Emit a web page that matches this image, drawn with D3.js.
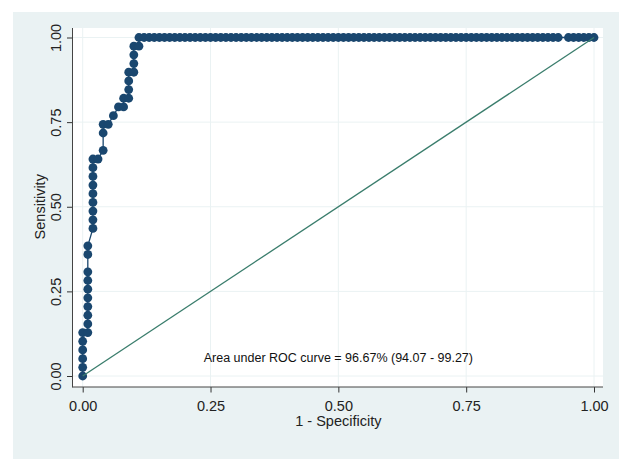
<!DOCTYPE html>
<html>
<head>
<meta charset="utf-8">
<script src="https://cdn.jsdelivr.net/npm/d3@7"></script>
<style>
	body { margin: 0; background: #ffffff; }
	text { font-family: "Liberation Sans", Arial, sans-serif; }
</style>
</head>
<body>
<div id="chart"></div>
<script>
// ROC points (1 - specificity, sensitivity)
var fpr = [
	0, 0, 0, 0, 0, 0,
	0.01, 0.01, 0.01, 0.01, 0.01, 0.01, 0.01, 0.01, 0.01, 0.01,
	0.02, 0.02, 0.02, 0.02, 0.02, 0.02, 0.02, 0.02, 0.02,
	0.03,
	0.04, 0.04, 0.04,
	0.05,
	0.06,
	0.07, 0.08,
	0.08, 0.09,
	0.09, 0.09, 0.09, 0.10,
	0.10, 0.10, 0.10, 0.11,
	0.11, 0.12, 0.13, 0.14, 0.15, 0.16, 0.17, 0.18, 0.19, 0.20,
	0.21, 0.22, 0.23, 0.24, 0.25, 0.26, 0.27, 0.28, 0.29, 0.30,
	0.31, 0.32, 0.33, 0.34, 0.35, 0.36, 0.37, 0.38, 0.39, 0.40,
	0.41, 0.42, 0.43, 0.44, 0.45, 0.46, 0.47, 0.48, 0.49, 0.50,
	0.51, 0.52, 0.53, 0.54, 0.55, 0.56, 0.57, 0.58, 0.59, 0.60,
	0.61, 0.62, 0.63, 0.64, 0.65, 0.66, 0.67, 0.68, 0.69, 0.70,
	0.71, 0.72, 0.73, 0.74, 0.75, 0.76, 0.77, 0.78, 0.79, 0.80,
	0.81, 0.82, 0.83, 0.84, 0.85, 0.86, 0.87, 0.88, 0.89, 0.90,
	0.91, 0.92, 0.93, 0.95, 0.96, 0.97, 0.98, 0.99, 1.00
];
var tpr = [
	0, 0.0256, 0.0513, 0.0769, 0.1026, 0.1282,
	0.1282, 0.1538, 0.1795, 0.2051, 0.2308, 0.2564, 0.2821, 0.3077, 0.3590, 0.3846,
	0.4359, 0.4615, 0.4872, 0.5128, 0.5385, 0.5641, 0.5897, 0.6154, 0.6410,
	0.6410,
	0.6667, 0.7179, 0.7436,
	0.7436,
	0.7692,
	0.7949, 0.7949,
	0.8205, 0.8205,
	0.8462, 0.8718, 0.8974, 0.8974,
	0.9231, 0.9487, 0.9744, 0.9744,
	1, 1, 1, 1, 1, 1, 1, 1, 1, 1,
	1, 1, 1, 1, 1, 1, 1, 1, 1, 1,
	1, 1, 1, 1, 1, 1, 1, 1, 1, 1,
	1, 1, 1, 1, 1, 1, 1, 1, 1, 1,
	1, 1, 1, 1, 1, 1, 1, 1, 1, 1,
	1, 1, 1, 1, 1, 1, 1, 1, 1, 1,
	1, 1, 1, 1, 1, 1, 1, 1, 1, 1,
	1, 1, 1, 1, 1, 1, 1, 1, 1, 1,
	1, 1, 1, 1, 1, 1, 1, 1, 1
];
var refLine = [[0, 0], [1, 1]];
var xTicks = [0, 0.25, 0.5, 0.75, 1];
var yTicks = [0, 0.25, 0.5, 0.75, 1];
var xTitle = "1 - Specificity";
var yTitle = "Sensitivity";
var note = "Area under ROC curve = 96.67% (94.07 - 99.27)";

var width = 619,
	height = 459;

var svg = d3.select("#chart")
	.append("svg")
	.attr("width", width)
	.attr("height", height);

// graph region and plot region
svg.append("rect")
	.attr("x", 13).attr("y", 12)
	.attr("width", width - 13).attr("height", height - 12)
	.attr("fill", "#eaf2f3");
var plotL = 72.5, plotR = 603, plotT = 28, plotB = 387;
svg.append("rect")
	.attr("x", plotL).attr("y", plotT)
	.attr("width", plotR - plotL).attr("height", plotB - plotT)
	.attr("fill", "#ffffff");

// scales
var x = d3.scaleLinear().domain([0, 1]).range([82.7, 594]);
var y = d3.scaleLinear().domain([0, 1]).range([376, 37.5]);

// grid
svg.append("g")
	.selectAll("line")
	.data(xTicks)
	.enter().append("line")
	.attr("x1", function(d) { return x(d); })
	.attr("x2", function(d) { return x(d); })
	.attr("y1", plotT).attr("y2", plotB)
	.attr("stroke", "#eaf2f3").attr("stroke-width", 1);
svg.append("g")
	.selectAll("line")
	.data(yTicks)
	.enter().append("line")
	.attr("y1", function(d) { return y(d); })
	.attr("y2", function(d) { return y(d); })
	.attr("x1", plotL).attr("x2", plotR)
	.attr("stroke", "#eaf2f3").attr("stroke-width", 1);

// axes
var gx = svg.append("g")
	.attr("transform", "translate(0," + plotB + ")")
	.call(d3.axisBottom(x).tickValues(xTicks).tickSize(5.5).tickSizeOuter(0).tickFormat(d3.format(".2f")));
gx.select(".domain").remove();
gx.selectAll("line").attr("stroke", "#333");
gx.selectAll("text")
	.attr("y", 24).attr("dy", null)
	.style("font-size", "14.5px")
	.attr("fill", "#222");

var gy = svg.append("g")
	.attr("transform", "translate(" + plotL + ",0)")
	.call(d3.axisLeft(y).tickValues(yTicks).tickSize(5.5).tickSizeOuter(0).tickFormat(d3.format(".2f")));
gy.select(".domain").remove();
gy.selectAll("line").attr("stroke", "#333");
gy.selectAll("text")
	.attr("x", 0).attr("y", 0).attr("dy", null)
	.attr("transform", "translate(-11.5,0) rotate(-90)")
	.style("text-anchor", "middle")
	.style("font-size", "14.5px")
	.attr("fill", "#222");

svg.append("line")
	.attr("x1", plotL).attr("x2", plotL)
	.attr("y1", plotT).attr("y2", plotB + 0.5)
	.attr("stroke", "#444").attr("stroke-width", 1);
svg.append("line")
	.attr("x1", plotL).attr("x2", plotR)
	.attr("y1", plotB).attr("y2", plotB)
	.attr("stroke", "#444").attr("stroke-width", 1);

// titles
svg.append("text")
	.attr("x", (x(0) + x(1)) / 2)
	.attr("y", 426)
	.style("text-anchor", "middle")
	.style("font-size", "14.5px")
	.attr("fill", "#222")
	.text(xTitle);
svg.append("text")
	.attr("transform", "translate(45," + ((y(0) + y(1)) / 2) + ") rotate(-90)")
	.style("text-anchor", "middle")
	.style("font-size", "14.5px")
	.attr("fill", "#222")
	.text(yTitle);

// roc curve
var points = fpr.map(function(d, i) { return {fpr: d, tpr: tpr[i]}; });
var line = d3.line()
	.x(function(d) { return x(d.fpr); })
	.y(function(d) { return y(d.tpr); });
svg.append("path")
	.datum(points)
	.attr("d", line)
	.attr("stroke", "#1a476f")
	.attr("stroke-width", 1.3)
	.attr("fill", "none");
svg.append("g")
	.selectAll("circle")
	.data(points)
	.enter().append("circle")
	.attr("cx", function(d) { return x(d.fpr); })
	.attr("cy", function(d) { return y(d.tpr); })
	.attr("r", 4.4)
	.attr("fill", "#1a476f");

// reference line
svg.append("path")
	.datum(refLine)
	.attr("d", d3.line()
		.x(function(d) { return x(d[0]); })
		.y(function(d) { return y(d[1]); }))
	.attr("stroke", "#3a7d6c")
	.attr("stroke-width", 1.3)
	.attr("fill", "none");

// note
svg.append("text")
	.attr("x", x(0.5))
	.attr("y", 362)
	.style("text-anchor", "middle")
	.style("font-size", "12.5px")
	.attr("fill", "#111")
	.text(note);
</script>
</body>
</html>
